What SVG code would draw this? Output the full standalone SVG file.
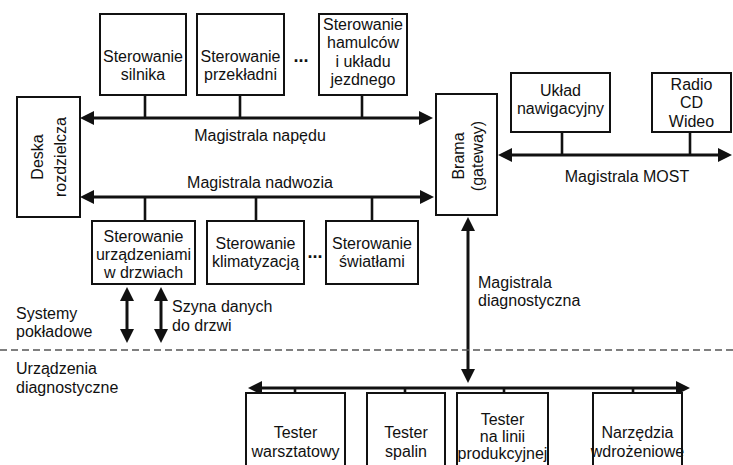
<svg xmlns="http://www.w3.org/2000/svg" width="733" height="465" viewBox="0 0 733 465">
<style>
text{font-family:"Liberation Sans",Arial,sans-serif;font-size:16px;fill:#111;}
.c{text-anchor:middle;}
.dots{font-size:18px;font-weight:bold;text-anchor:middle;}
.box{fill:#fff;stroke:#111;stroke-width:2;}
.bus{stroke:#111;stroke-width:3;fill:none;}
.stub{stroke:#111;stroke-width:2.6;fill:none;}
.arr{marker-start:url(#ah);marker-end:url(#ah);}
.dash{stroke:#555;stroke-width:1.5;stroke-dasharray:7,4;fill:none;}
</style>
<defs>
<marker id="ah" markerUnits="userSpaceOnUse" markerWidth="14" markerHeight="14" refX="8" refY="7" orient="auto-start-reverse" viewBox="0 0 14 14">
<path d="M0,0 L14,7 L0,14 z" fill="#111"/>
</marker>
</defs>
<rect width="733" height="465" fill="#fff"/>

<g id="connectors">
<line class="stub" x1="145" y1="95" x2="145" y2="118"/>
<line class="stub" x1="240" y1="95" x2="240" y2="118"/>
<line class="stub" x1="362" y1="95" x2="362" y2="118"/>
<line class="bus arr" x1="86" y1="118" x2="427" y2="118"/>
<line class="stub" x1="145" y1="197" x2="145" y2="221"/>
<line class="stub" x1="256" y1="197" x2="256" y2="221"/>
<line class="stub" x1="372" y1="197" x2="372" y2="221"/>
<line class="bus arr" x1="86" y1="197" x2="428" y2="197"/>
<line class="stub" x1="562" y1="132" x2="562" y2="155"/>
<line class="stub" x1="690" y1="132" x2="690" y2="155"/>
<line class="bus arr" x1="504" y1="155" x2="726" y2="155"/>
<line class="bus arr" x1="468" y1="223" x2="468" y2="377"/>
<line class="bus arr" x1="127" y1="293" x2="127" y2="337"/>
<line class="bus arr" x1="161" y1="293" x2="161" y2="337"/>
<line class="bus arr" x1="254" y1="388" x2="684" y2="388"/>
<line class="stub" x1="295" y1="388" x2="295" y2="393"/>
<line class="stub" x1="405" y1="388" x2="405" y2="393"/>
<line class="stub" x1="504" y1="388" x2="504" y2="393"/>
<line class="stub" x1="633" y1="388" x2="633" y2="393"/>
<line class="dash" x1="0" y1="350" x2="733" y2="350"/>
</g>

<g id="silnik">
<rect class="box" x="100" y="14" width="86" height="81"/>
<text class="c" x="143" y="62">Sterowanie</text>
<text class="c" x="143" y="80">silnika</text>
</g>
<g id="przekladnia">
<rect class="box" x="197" y="14" width="87" height="81"/>
<text class="c" x="240.5" y="62">Sterowanie</text>
<text class="c" x="240.5" y="80">przekładni</text>
</g>
<text class="dots" x="301" y="62">...</text>
<g id="hamulce">
<rect class="box" x="319" y="14" width="88" height="81"/>
<text class="c" x="363" y="30">Sterowanie</text>
<text class="c" x="363" y="48">hamulców</text>
<text class="c" x="363" y="67">i układu</text>
<text class="c" x="363" y="85">jezdnego</text>
</g>
<g id="deska">
<rect class="box" x="17" y="97" width="63" height="120"/>
<text class="c" transform="translate(43,157) rotate(-90)">Deska</text>
<text class="c" transform="translate(66,157) rotate(-90)">rozdzielcza</text>
</g>
<text class="c" x="260" y="141">Magistrala napędu</text>
<text class="c" x="260" y="188">Magistrala nadwozia</text>
<g id="brama">
<rect class="box" x="436" y="94" width="61" height="121"/>
<text class="c" transform="translate(464,156) rotate(-90)">Brama</text>
<text class="c" transform="translate(483,156) rotate(-90)">(gateway)</text>
</g>
<g id="nawigacja">
<rect class="box" x="511" y="73" width="99" height="59"/>
<text class="c" x="560.5" y="96">Układ</text>
<text class="c" x="560.5" y="114">nawigacyjny</text>
</g>
<g id="radio">
<rect class="box" x="652" y="73" width="79" height="59"/>
<text class="c" x="691.5" y="90">Radio</text>
<text class="c" x="691.5" y="108">CD</text>
<text class="c" x="691.5" y="127">Wideo</text>
</g>
<text class="c" x="627" y="182">Magistrala MOST</text>
<g id="drzwi">
<rect class="box" x="92" y="221" width="103" height="63"/>
<text class="c" x="143.5" y="242">Sterowanie</text>
<text class="c" x="143.5" y="260">urządzeniami</text>
<text class="c" x="143.5" y="278">w drzwiach</text>
</g>
<g id="klima">
<rect class="box" x="207" y="221" width="97" height="63"/>
<text class="c" x="255.5" y="249">Sterowanie</text>
<text class="c" x="255.5" y="267">klimatyzacją</text>
</g>
<text class="dots" x="315" y="258">...</text>
<g id="swiatla">
<rect class="box" x="326" y="221" width="92" height="63"/>
<text class="c" x="372" y="249">Sterowanie</text>
<text class="c" x="372" y="267">światłami</text>
</g>
<text x="16" y="319">Systemy</text>
<text x="16" y="337">pokładowe</text>
<text x="172" y="312">Szyna danych</text>
<text x="172" y="331">do drzwi</text>
<text x="478" y="288">Magistrala</text>
<text x="478" y="306">diagnostyczna</text>
<text x="16" y="374">Urządzenia</text>
<text x="16" y="393">diagnostyczne</text>
<g id="warsztat">
<rect class="box" x="246" y="393" width="99" height="80"/>
<text class="c" x="295.5" y="438">Tester</text>
<text class="c" x="295.5" y="457">warsztatowy</text>
</g>
<g id="spaliny">
<rect class="box" x="367" y="393" width="78" height="80"/>
<text class="c" x="406" y="438">Tester</text>
<text class="c" x="406" y="457">spalin</text>
</g>
<g id="produkcja">
<rect class="box" x="457" y="393" width="91" height="80"/>
<text class="c" x="502.5" y="425">Tester</text>
<text class="c" x="502.5" y="442">na linii</text>
<text class="c" x="502.5" y="459">produkcyjnej</text>
</g>
<g id="narzedzia">
<rect class="box" x="593" y="393" width="89" height="80"/>
<text class="c" x="637.5" y="438">Narzędzia</text>
<text class="c" x="637.5" y="457">wdrożeniowe</text>
</g>
</svg>
